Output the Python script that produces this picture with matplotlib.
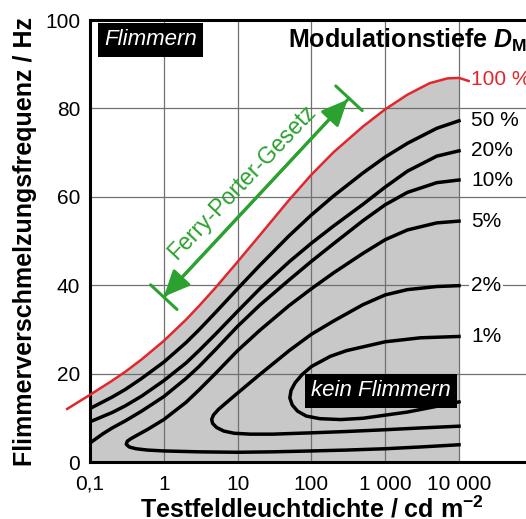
import numpy as np
import matplotlib
matplotlib.use('Agg')
import matplotlib.pyplot as plt

plt.rcParams['font.family'] = ['Liberation Sans', 'DejaVu Sans']
plt.rcParams['mathtext.fontset'] = 'custom'
plt.rcParams['mathtext.rm'] = 'Liberation Sans:bold'
plt.rcParams['mathtext.it'] = 'Liberation Sans:italic:bold'
plt.rcParams['mathtext.bf'] = 'Liberation Sans:bold'

# 100 % curve (red), last point is the short tail to the label
red_x = [0.049, 0.07, 0.1, 0.2, 0.3, 0.5, 1, 2, 3, 5, 10, 20, 50, 100, 200, 500,
         1000, 2000, 4000, 7000, 10000, 13500]
red_y = [12.0, 13.6, 15.2, 18.4, 20.4, 23.2, 27.4, 32.2, 35.3, 39.4, 45.3, 51.3, 59.3,
         65.0, 70.1, 75.9, 79.8, 83.1, 85.7, 86.8, 86.9, 86.2]

d50_x = [0.1, 0.2, 0.3, 0.5, 1, 2, 3, 5, 10, 20, 50, 100, 200, 500, 1000, 2000, 5000, 10000]
d50_y = [12.1, 14.7, 16.4, 18.9, 22.6, 27.0, 29.9, 33.8, 39.2, 44.5, 51.2, 55.9, 60.2,
         65.4, 69.0, 72.1, 75.5, 77.2]

d20_x = [0.1, 0.2, 0.3, 0.5, 1, 2, 3, 5, 10, 20, 50, 100, 200, 500, 1000, 2000, 5000, 10000]
d20_y = [9.1, 11.2, 12.7, 14.9, 18.4, 22.4, 25.2, 28.9, 34.1, 39.2, 45.3, 49.5, 53.4,
         58.3, 62.2, 65.8, 69.2, 70.4]

d10_x = [0.1, 0.15, 0.2, 0.3, 0.5, 1, 2, 3, 5, 10, 20, 50, 100, 200, 500, 1000, 2000,
         5000, 10000]
d10_y = [4.3, 6.4, 7.7, 9.3, 11.5, 14.8, 18.9, 21.6, 25.4, 30.7, 35.5, 41.2, 45.4, 49.4,
         54.6, 58.2, 61.0, 63.2, 63.8]

# loops: lower branch from the right to the tip, then upper branch back to the right
d5_x = [10000, 3000, 1000, 300, 100, 30, 10, 3, 1, 0.6, 0.42, 0.34, 0.31, 0.32, 0.36,
        0.45, 0.6, 1, 2, 3, 5, 10, 20, 50, 100, 200, 500, 1000, 2000, 5000, 10000]
d5_y = [3.9, 3.4, 3.0, 2.7, 2.5, 2.3, 2.2, 2.3, 2.5, 2.7, 3.0, 3.4, 4.0, 4.7, 5.3,
        6.2, 7.35, 9.6, 13.5, 16.3, 20.0, 25.2, 29.8, 35.4, 39.2, 42.8, 47.2, 50.3, 52.5,
        54.1, 54.5]

d2_x = [10000, 3000, 1000, 300, 100, 30, 15, 9, 6.5, 5.2, 4.6, 4.45, 4.7, 5.5, 7, 10,
        20, 50, 100, 200, 500, 1000, 2000, 5000, 10000]
d2_y = [8.1, 7.7, 7.3, 6.9, 6.6, 6.3, 6.3, 6.5, 7.0, 7.8, 8.7, 9.6, 10.6, 11.9, 13.4,
        15.6, 19.8, 25.2, 28.9, 31.9, 35.6, 37.8, 39.0, 39.7, 39.9]

d1_x = [10000, 5000, 2000, 1000, 500, 250, 130, 85, 65, 55, 51, 53, 60, 75, 100, 180,
        300, 1000, 3000, 10000]
d1_y = [13.6, 12.6, 11.3, 10.6, 9.9, 9.6, 9.8, 10.4, 11.5, 12.9, 14.5, 16.2, 17.9,
        19.8, 21.6, 23.9, 25.2, 27.2, 28.1, 28.4]

black_curves = [(d50_x, d50_y, '50 %'), (d20_x, d20_y, '20%'), (d10_x, d10_y, '10%'),
                (d5_x, d5_y, '5%'), (d2_x, d2_y, '2%'), (d1_x, d1_y, '1%')]

x_ticks = [0.1, 1, 10, 100, 1000, 10000]
x_ticklabels = ['0,1', '1', '10', '100', '1 000', '10 000']
y_ticks = [0, 20, 40, 60, 80, 100]

red = '#e3262b'
green = '#2ba12f'

fig = plt.figure(figsize=(5.26, 5.19), dpi=100)
ax = fig.add_axes([90 / 526, 57 / 519, 6 * 73.8 / 526, 442 / 519])
ax.set_xscale('log')
ax.set_xlim(0.1, 1e5)
ax.set_ylim(0, 100)

# gray area below the 100 % curve
rx = np.array(red_x)
ry = np.array(red_y)
inside = rx <= 10000
ax.fill_between(rx[inside], 0, ry[inside], color='#c8c8c8', lw=0, zorder=1)

for cx, cy, lab in black_curves:
    ax.plot(cx, cy, color='black', lw=2.5, solid_joinstyle='round', zorder=3)
    ax.text(14500, cy[-1], lab, fontsize=15, va='center', ha='left', zorder=5,
            bbox=dict(boxstyle='square,pad=0.08', fc='white', ec='none'))

ax.plot(red_x, red_y, color=red, lw=1.8, clip_on=False, zorder=4)
ax.text(14500, 86.5, '100 %', color=red, fontsize=15, va='center', ha='left', zorder=5)

ax.set_xticks(x_ticks, x_ticklabels)
ax.set_yticks(y_ticks)
ax.minorticks_off()
ax.grid(True, color='#707070', lw=0.9)
ax.tick_params(axis='both', length=0, labelsize=15)
ax.tick_params(axis='x', pad=9)
ax.tick_params(axis='y', pad=7)

for s in ['left', 'bottom', 'top']:
    ax.spines[s].set_linewidth(2.2)
ax.spines['right'].set_visible(False)

ax.set_xlabel('Testfeldleuchtdichte / cd m$^{-2}$', fontsize=18, fontweight='bold')
ax.xaxis.set_label_coords(0.5, -0.077)
ax.set_ylabel('Flimmerverschmelzungsfrequenz / Hz', fontsize=18, fontweight='bold')
ax.yaxis.set_label_coords(-0.12, 0.5)

# boxes
ax.text(0.66, 95.5, 'Flimmern', color='white', fontsize=16, style='italic',
        ha='center', va='center', zorder=6,
        bbox=dict(boxstyle='square,pad=0.28', fc='black', ec='none'))
ax.text(880, 16.1, 'kein Flimmern', color='white', fontsize=16, style='italic',
        ha='center', va='center', zorder=6,
        bbox=dict(boxstyle='square,pad=0.28', fc='black', ec='none'))

fig.text(288 / 526, 1 - 48 / 519, 'Modulationstiefe $D_{\\mathbf{M}}$', fontsize=18,
         fontweight='bold', va='baseline', ha='left')

# Ferry-Porter arrow
ax.annotate('', xy=(310, 82.0), xytext=(1.0, 37.4),
            arrowprops=dict(arrowstyle='<|-|>,head_length=1.0,head_width=0.45',
                            mutation_scale=16, color=green, lw=2.2,
                            shrinkA=0, shrinkB=0), zorder=6)
ax.annotate('', xy=(323, 82.3), xytext=(1.0, 37.3),
            arrowprops=dict(arrowstyle='|-|,widthA=13,widthB=13', mutation_scale=1,
                            color=green, lw=2.2, shrinkA=0, shrinkB=0), zorder=6)
ax.text(11.5, 63.3, 'Ferry-Porter-Gesetz', color=green, fontsize=16.5, rotation=46.5,
        rotation_mode='anchor', ha='center', va='center', zorder=6)

fig.savefig('out.png', dpi=100)
